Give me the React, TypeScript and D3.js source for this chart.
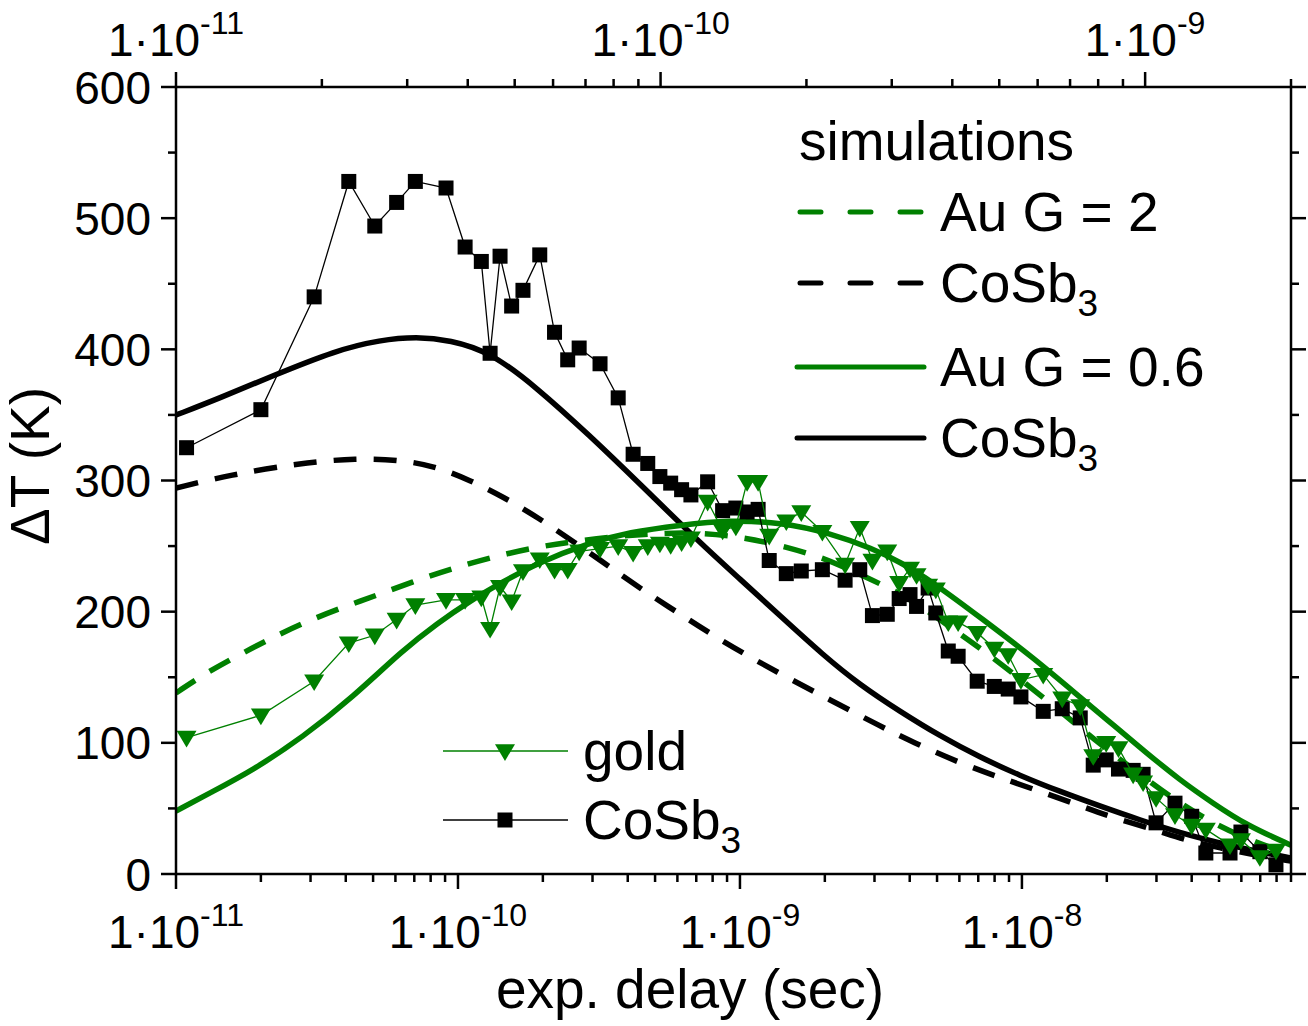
import React from 'react';
import * as d3 from 'd3';

// experimental delays (s), shared by both measured series
const delays = [
  1.09e-11, 2.0e-11, 3.09e-11, 4.1e-11, 5.07e-11, 6.06e-11, 7.06e-11, 9.07e-11,
  1.06e-10, 1.21e-10, 1.3e-10, 1.41e-10, 1.55e-10, 1.7e-10, 1.95e-10, 2.2e-10,
  2.45e-10, 2.69e-10, 3.19e-10, 3.7e-10, 4.18e-10, 4.71e-10, 5.2e-10, 5.68e-10,
  6.21e-10, 6.7e-10, 7.68e-10, 8.68e-10, 9.67e-10, 1.06e-9, 1.16e-9, 1.27e-9,
  1.46e-9, 1.65e-9, 1.96e-9, 2.36e-9, 2.66e-9, 2.95e-9, 3.33e-9, 3.67e-9,
  4.01e-9, 4.23e-9, 4.65e-9, 4.95e-9, 5.48e-9, 5.94e-9, 6.94e-9, 7.98e-9,
  8.94e-9, 9.92e-9, 1.19e-8, 1.39e-8, 1.61e-8, 1.79e-8, 1.99e-8, 2.2e-8,
  2.48e-8, 2.69e-8, 2.99e-8, 3.49e-8, 4.0e-8, 4.49e-8, 5.47e-8, 5.98e-8,
  6.98e-8, 7.96e-8,
];

const cosbMeasured = [
  325, 354, 440, 528, 494, 512, 528, 523, 478, 467, 397, 471, 433, 445, 472, 413,
  392, 401, 389, 363, 320, 313, 303, 298, 293, 289, 299, 277, 279, 276, 278, 239,
  229, 231, 232, 224, 232, 197, 198, 210, 213, 204, 218, 199, 170, 166, 147, 143,
  141, 135, 124, 126, 119, 83, 87, 80, 79, 76, 39, 54, 44, 16, 16, 32,
  17, 7,
];

const goldMeasured = [
  104, 121, 147, 176, 182, 194, 205, 209, 209, 211, 187, 219, 208, 231, 240, 232,
  232, 246, 248, 250, 245, 250, 252, 251, 253, 256, 284, 262, 265, 299, 299, 258,
  269, 276, 261, 236, 264, 239, 246, 222, 233, 228, 220, 217, 192, 192, 184, 172,
  167, 148, 152, 134, 128, 90, 100, 96, 76, 70, 58, 45, 37, 34, 22, 26,
  13, 18,
];

// simulations, G = 0.6 (solid)
const simSolidT = [
  1e-11, 1.43e-11, 2.15e-11, 3.72e-11, 5.29e-11, 7.14e-11, 9.37e-11, 1.3e-10, 1.9e-10,
  2.94e-10, 4.42e-10, 7.21e-10, 1e-9, 1.39e-9, 1.97e-9, 2.67e-9, 3.69e-9, 5.12e-9,
  7.1e-9, 9.84e-9, 1.36e-8, 1.89e-8, 2.62e-8, 3.63e-8, 5.04e-8, 6.98e-8, 9e-8,
];
const cosbSolid = [
  349.9, 362.9, 378.9, 399.5, 407.1, 409.6, 407.1, 398, 371, 334, 297.3, 252.5,
  224.9, 196.7, 167, 144, 124, 105.2, 89, 75, 63, 51.8, 41.2, 31.5,
  23.6, 16.8, 12.2,
];

const goldSolidT = [
  1e-11, 1.32e-11, 1.88e-11, 2.82e-11, 4.24e-11, 6.38e-11, 8.43e-11, 1.1e-10, 1.45e-10,
  1.91e-10, 2.87e-10, 4.07e-10, 6.12e-10, 9.22e-10, 1.39e-9, 2.09e-9, 2.96e-9, 3.69e-9,
  4.83e-9, 7.28e-9, 1.09e-8, 1.65e-8, 2.1e-8, 2.77e-8, 3.63e-8, 4.75e-8, 6.28e-8, 9e-8,
];
const goldSolid = [
  48, 61.8, 79.3, 104.4, 134.9, 170.8, 191, 208, 223, 237, 252, 260.7,
  266, 269.9, 268, 260, 248, 238, 222.6, 194, 165.4, 132.7, 114, 92.2,
  71.7, 54.1, 37, 22,
];

// simulations, G = 2 (dashed)
const simDashT = [
  1e-11, 1.55e-11, 2.75e-11, 4.37e-11, 6.38e-11, 8.43e-11, 1.1e-10, 1.45e-10, 1.91e-10,
  2.71e-10, 3.46e-10, 4.68e-10, 7.39e-10, 9.22e-10, 1.39e-9, 2.09e-9, 3.14e-9, 4.1e-9,
  6.03e-9, 8.35e-9, 1.16e-8, 1.61e-8, 2.1e-8, 2.99e-8, 3.72e-8, 5.04e-8, 6.98e-8, 9e-8,
];
const cosbDash = [
  294.3, 304.2, 313.3, 317.1, 315.6, 310.3, 300.4, 287.4, 272.2, 250, 234, 214.2,
  187, 174, 152.5, 132.7, 112.8, 100.5, 84.6, 73.5, 63, 52, 43, 33.5, 26.5, 19.8,
  13.7, 9.9,
];

const goldDashT = [
  1e-11, 1.25e-11, 1.64e-11, 2.15e-11, 2.82e-11, 3.91e-11, 5.16e-11, 7.16e-11, 9.92e-11,
  1.37e-10, 1.91e-10, 2.5e-10, 3.46e-10, 4.8e-10, 7.21e-10, 1.06e-9, 1.47e-9, 1.97e-9,
  2.45e-9, 3.32e-9, 4.24e-9, 6.7e-9, 8.35e-9, 1.23e-8, 1.52e-8, 1.89e-8, 2.62e-8,
  3.35e-8, 4.53e-8, 5.93e-8, 8.02e-8, 9e-8,
];
const goldDash = [
  138, 152, 166, 179.2, 191.4, 203.5, 212.5, 224.1, 234, 242.4, 249.3, 253.1, 256.9,
  259.5, 260.5, 256.2, 249.3, 241, 232, 219, 206.6, 176, 161, 132, 116,
  99, 76, 59, 41.2, 29, 18.3, 15.2,
];

const bottomMajor = [1e-11, 1e-10, 1e-9, 1e-8];
const topMajor = [1e-11, 1e-10, 1e-9];
const yTicks = [0, 100, 200, 300, 400, 500, 600];
const exponents: Record<number, string> = { 1e-11: '-11', 1e-10: '-10', 1e-9: '-9', 1e-8: '-8' };

const W = 1308;
const H = 1026;
const left = 176, right = 1291, top = 87, bottom = 874;
const GREEN = '#008000';
const FONT = '"Liberation Sans", Arial, sans-serif';
const FS = 46; // tick labels
const SUP = 32;
const LFS = 55; // titles and legends
const LSUB = 37;

const x = d3.scaleLog().domain([1e-11, 9e-8]).range([left, right]);
const xTop = d3.scaleLog().domain([1e-11, 2e-9]).range([left, right]);
const y = d3.scaleLinear().domain([0, 600]).range([bottom, top]);

function minorTicks(lo: number, hi: number) {
  const out: number[] = [];
  for (let e = Math.floor(Math.log10(lo)); e <= Math.ceil(Math.log10(hi)); e++) {
    for (let m = 2; m <= 9; m++) {
      const v = m * Math.pow(10, e);
      if (v >= lo * 0.999 && v <= hi * 1.001) out.push(v);
    }
  }
  return out;
}

const lineOf = (ts: number[], vs: number[]) =>
  d3.line<number>()
    .x((_, i) => x(ts[i]))
    .y(d => y(d))
    .curve(d3.curveBasis)(vs) || '';

const tri = (cx: number, cy: number) => {
  const w = 10, h = 9;
  return `M${cx - w},${cy - h * 0.75}L${cx + w},${cy - h * 0.75}L${cx},${cy + h * 1.1}Z`;
};

function Pow({ v, px, py }: { v: number; px: number; py: number }) {
  return (
    <text x={px} y={py} textAnchor="middle" fontSize={FS}>
      1·10<tspan dy={-22} fontSize={SUP}>{exponents[v]}</tspan>
    </text>
  );
}

export default function App() {
  const yMinor = d3.range(50, 600, 100);
  const measuredLine = (vals: number[]) =>
    d3.line<number>().x((_, i) => x(delays[i])).y(d => y(d))(vals) || '';

  return (
    <svg width={W} height={H} style={{ position: 'absolute', left: 0, top: 0, background: '#fff' }}
      fontFamily={FONT}>
      <defs>
        <clipPath id="plot">
          <rect x={left} y={top} width={right - left} height={bottom - top} />
        </clipPath>
      </defs>

      {/* simulation curves */}
      <g clipPath="url(#plot)" fill="none" strokeWidth={5.5}>
        <path d={lineOf(simDashT, cosbDash)} stroke="#000" strokeDasharray="23,17" />
        <path d={lineOf(goldDashT, goldDash)} stroke={GREEN} strokeDasharray="23,17" />
        <path d={lineOf(simSolidT, cosbSolid)} stroke="#000" />
        <path d={lineOf(goldSolidT, goldSolid)} stroke={GREEN} />
      </g>

      {/* measured data */}
      <g clipPath="url(#plot)">
        <path d={measuredLine(cosbMeasured)} fill="none" stroke="#000" strokeWidth={1.3} />
        {cosbMeasured.map((v, i) => (
          <rect key={'s' + i} x={x(delays[i]) - 7.5} y={y(v) - 7.5} width={15} height={15} fill="#000" />
        ))}
        <path d={measuredLine(goldMeasured)} fill="none" stroke={GREEN} strokeWidth={1.3} />
        {goldMeasured.map((v, i) => (
          <path key={'t' + i} d={tri(x(delays[i]), y(v))} fill={GREEN} />
        ))}
      </g>

      {/* frame */}
      <rect x={left} y={top} width={right - left} height={bottom - top} fill="none" stroke="#000" strokeWidth={2.5} />

      {/* bottom axis */}
      {bottomMajor.map(v => (
        <g key={'bm' + v}>
          <line x1={x(v)} x2={x(v)} y1={bottom} y2={bottom + 15} stroke="#000" strokeWidth={2.5} />
          <Pow v={v} px={x(v)} py={948} />
        </g>
      ))}
      {minorTicks(1e-11, 9e-8).map(v => (
        <line key={'bn' + v} x1={x(v)} x2={x(v)} y1={bottom} y2={bottom + 8} stroke="#000" strokeWidth={2.5} />
      ))}

      {/* top axis */}
      {topMajor.map(v => (
        <g key={'tm' + v}>
          <line x1={xTop(v)} x2={xTop(v)} y1={top} y2={top - 15} stroke="#000" strokeWidth={2.5} />
          <Pow v={v} px={xTop(v)} py={56} />
        </g>
      ))}
      {minorTicks(1e-11, 2e-9).map(v => (
        <line key={'tn' + v} x1={xTop(v)} x2={xTop(v)} y1={top} y2={top - 8} stroke="#000" strokeWidth={2.5} />
      ))}

      {/* left / right axes */}
      {yTicks.map(v => (
        <g key={'y' + v}>
          <line x1={left - 15} x2={left} y1={y(v)} y2={y(v)} stroke="#000" strokeWidth={2.5} />
          <line x1={right} x2={right + 15} y1={y(v)} y2={y(v)} stroke="#000" strokeWidth={2.5} />
          <text x={151} y={y(v) + 16.5} textAnchor="end" fontSize={FS}>{v}</text>
        </g>
      ))}
      {yMinor.map(v => (
        <g key={'ym' + v}>
          <line x1={left - 8} x2={left} y1={y(v)} y2={y(v)} stroke="#000" strokeWidth={2.5} />
          <line x1={right} x2={right + 8} y1={y(v)} y2={y(v)} stroke="#000" strokeWidth={2.5} />
        </g>
      ))}

      {/* axis titles */}
      <text x={690} y={1008} textAnchor="middle" fontSize={LFS}>exp. delay (sec)</text>
      <text transform="translate(49,466) rotate(-90)" textAnchor="middle" fontSize={LFS}>ΔT (K)</text>

      {/* simulations legend */}
      <text x={799} y={160} fontSize={LFS}>simulations</text>
      {[
        { yy: 212, color: GREEN, dash: '21,29', label: 'Au G = 2', sub: false },
        { yy: 283, color: '#000', dash: '21,29', label: 'CoSb', sub: true },
        { yy: 367, color: GREEN, dash: undefined, label: 'Au G = 0.6', sub: false },
        { yy: 438, color: '#000', dash: undefined, label: 'CoSb', sub: true },
      ].map((it, i) => (
        <g key={'lg' + i}>
          <line x1={it.dash ? 800 : 797} x2={924} y1={it.yy} y2={it.yy} stroke={it.color} strokeWidth={5}
            strokeDasharray={it.dash} strokeLinecap="round" />
          <text x={940} y={it.yy + 19} fontSize={LFS}>
            {it.label}
            {it.sub && <tspan dy={14} fontSize={LSUB}>3</tspan>}
          </text>
        </g>
      ))}

      {/* data legend */}
      <line x1={443} x2={568} y1={751} y2={751} stroke={GREEN} strokeWidth={1.3} />
      <path d={tri(505, 751)} fill={GREEN} />
      <text x={583} y={770} fontSize={LFS}>gold</text>
      <line x1={443} x2={568} y1={820} y2={820} stroke="#000" strokeWidth={1.3} />
      <rect x={497.5} y={812.5} width={15} height={15} fill="#000" />
      <text x={583} y={839} fontSize={LFS}>
        CoSb<tspan dy={14} fontSize={LSUB}>3</tspan>
      </text>
    </svg>
  );
}
